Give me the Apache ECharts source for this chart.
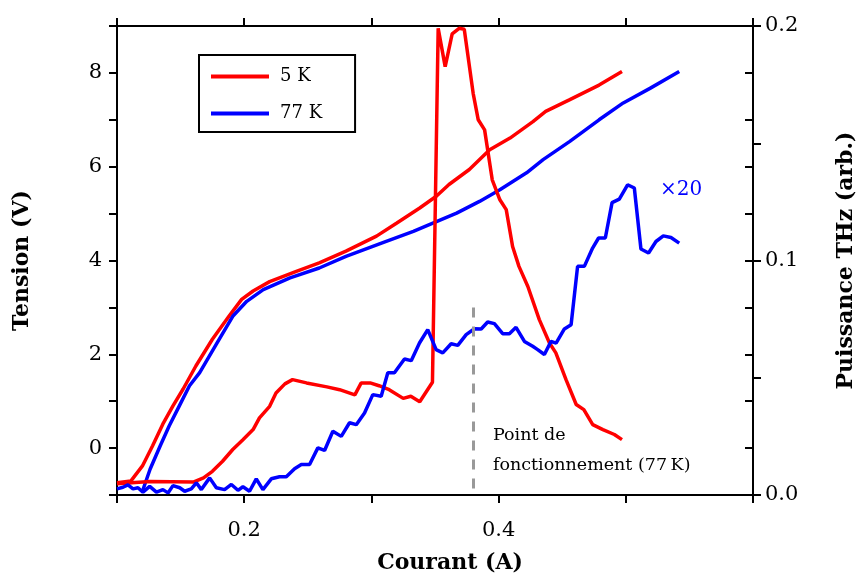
<!DOCTYPE html>
<html>
<head>
<meta charset="utf-8">
<script src="https://cdn.jsdelivr.net/npm/echarts@6/dist/echarts.min.js"></script>
<style>html,body{margin:0;padding:0;background:#fff;}#c{width:858px;height:574px;}</style>
</head>
<body>
<div id="c"></div>
<script>
// ---- Data ----
const ivCurrent5K = [0.100,0.111,0.120,0.128,0.136,0.144,0.152,0.162,0.175,0.188,0.198,0.207,0.220,0.241,0.259,0.280,0.304,0.320,0.338,0.351,0.361,0.377,0.393,0.409,0.427,0.437,0.456,0.479,0.497];
const ivVoltage5K = [-0.74,-0.70,-0.38,0.05,0.51,0.90,1.26,1.75,2.32,2.81,3.17,3.35,3.55,3.77,3.95,4.20,4.52,4.80,5.12,5.37,5.62,5.94,6.36,6.61,6.96,7.18,7.43,7.74,8.03];

const ivCurrent77K = [0.120,0.126,0.134,0.141,0.149,0.157,0.165,0.178,0.191,0.202,0.215,0.236,0.259,0.280,0.309,0.333,0.346,0.367,0.385,0.401,0.422,0.435,0.456,0.479,0.498,0.519,0.542];
const ivVoltage77K = [-0.92,-0.45,0.05,0.47,0.90,1.33,1.61,2.21,2.81,3.13,3.38,3.63,3.84,4.09,4.38,4.62,4.77,5.01,5.26,5.51,5.87,6.15,6.54,7.00,7.36,7.67,8.03];

const pwCurrent5K = [0.100,0.126,0.160,0.168,0.175,0.183,0.191,0.199,0.207,0.212,0.220,0.225,0.232,0.238,0.249,0.265,0.275,0.287,0.292,0.299,0.306,0.314,0.325,0.331,0.338,0.348,0.3525,0.358,0.3635,0.369,0.373,0.380,0.384,0.389,0.395,0.401,0.406,0.411,0.416,0.423,0.432,0.440,0.445,0.453,0.461,0.467,0.474,0.482,0.491,0.497];
const pwPower5K = [0.0048,0.0058,0.0055,0.0073,0.0101,0.0144,0.0194,0.0236,0.0279,0.0329,0.0378,0.0435,0.0474,0.0492,0.0478,0.0461,0.0449,0.0427,0.0478,0.0478,0.0466,0.0449,0.0412,0.0421,0.0398,0.0481,0.199,0.1827,0.1966,0.199,0.1986,0.1713,0.160,0.1557,0.1344,0.1259,0.1217,0.106,0.0975,0.0889,0.0748,0.0648,0.0606,0.0492,0.0386,0.0364,0.0300,0.0279,0.0258,0.0236];

const pwCurrent77K = [0.1000,0.1047,0.1086,0.1126,0.1165,0.1204,0.1257,0.1310,0.1361,0.1401,0.1440,0.1493,0.1532,0.1584,0.1624,0.1663,0.1728,0.1781,0.1846,0.1899,0.1951,0.1990,0.2042,0.2095,0.2147,0.2213,0.2278,0.2331,0.2396,0.2449,0.2514,0.2579,0.2632,0.2697,0.2763,0.2828,0.2881,0.2946,0.3011,0.3077,0.3129,0.3181,0.3260,0.3313,0.3378,0.3443,0.3509,0.3561,0.3627,0.3679,0.3745,0.3810,0.3863,0.3914,0.3967,0.4032,0.4085,0.4137,0.4203,0.4268,0.4307,0.4360,0.4412,0.4452,0.4517,0.4570,0.4621,0.4674,0.4739,0.4786,0.4839,0.4892,0.4949,0.5014,0.5067,0.5119,0.5179,0.5237,0.5295,0.5355,0.5420];
const pwPower77K = [0.0026,0.0033,0.0043,0.0026,0.0031,0.0012,0.0037,0.0012,0.0023,0.0009,0.0040,0.0031,0.0016,0.0026,0.0052,0.0023,0.0073,0.0031,0.0023,0.0045,0.0020,0.0035,0.0016,0.0069,0.0023,0.0069,0.0078,0.0078,0.0112,0.0130,0.0130,0.0201,0.0190,0.0272,0.0250,0.0308,0.0300,0.0350,0.0428,0.0421,0.0521,0.0521,0.0580,0.0573,0.0648,0.0705,0.0620,0.0606,0.0645,0.0638,0.0684,0.0709,0.0708,0.0738,0.0731,0.0688,0.0688,0.0715,0.0655,0.0634,0.0620,0.0599,0.0655,0.0648,0.0708,0.0726,0.0975,0.0975,0.1053,0.1096,0.1096,0.1247,0.1262,0.1323,0.1309,0.1049,0.1032,0.1081,0.1105,0.1098,0.1074];

const operatingCurrent = 0.38;
const operatingMarkerV = [3, -1];

const xTickLabels = ['0.2', '0.4'];
const yLeftTickLabels = ['0', '2', '4', '6', '8'];
const yRightTickLabels = ['0.0', '0.1', '0.2'];

const seriesNames = ['5 K', '77 K'];

// ---- Chart ----
const zip = (a, b) => a.map((v, i) => [v, b[i]]);
const FONT = 'DejaVu Serif';
const RED = '#ff0000', BLUE = '#0000ff';

const chart = echarts.init(document.getElementById('c'), null, {renderer: 'canvas'});

const axisLineStyle = {onZero: false, lineStyle: {color: '#000', width: 2}};
const tickStyle = {lineStyle: {color: '#000', width: 2}};
const titleStyle = {fontFamily: FONT, fontWeight: 'bold', fontSize: 22, color: '#000'};
const tickFont = {fontFamily: FONT, fontSize: 21, color: '#000'};

chart.setOption({
  animation: false,
  backgroundColor: '#fff',
  grid: {left: 117, right: 105, top: 26, bottom: 79, containLabel: false, outerBoundsMode: 'none'},
  legend: {
    left: 199, top: 55, orient: 'vertical',
    data: [{name: seriesNames[0], icon: 'rect'}, {name: seriesNames[1], icon: 'rect'}],
    itemWidth: 58, itemHeight: 4, itemGap: 16,
    borderColor: '#000', borderWidth: 2, borderRadius: 0,
    padding: [11, 33, 8, 12],
    textStyle: {fontFamily: FONT, fontSize: 18, color: '#000', padding: [0, 0, 0, 6], lineHeight: 21},
    selectedMode: false
  },
  xAxis: [
    {
      type: 'value', position: 'bottom', min: 0.1, max: 0.6, interval: 0.1,
      name: 'Courant (A)', nameLocation: 'middle', nameGap: 57,
      nameTextStyle: Object.assign({}, titleStyle, {padding: [0, 0, 0, 30]}),
      axisLine: axisLineStyle,
      axisTick: {show: true, inside: false, length: 8, ...tickStyle},
      axisLabel: Object.assign({}, tickFont, {
        margin: 25, showMinLabel: true, showMaxLabel: true,
        formatter: v => { const s = (+v).toFixed(1); return xTickLabels.includes(s) ? s : ''; }
      }),
      splitLine: {show: false}
    },
    {
      type: 'value', position: 'top', min: 0.1, max: 0.6, interval: 0.1,
      axisLine: axisLineStyle,
      axisTick: {show: true, inside: false, length: 8, ...tickStyle},
      axisLabel: {show: false}, splitLine: {show: false}
    }
  ],
  yAxis: [
    {
      type: 'value', position: 'left', min: -1, max: 9, interval: 1,
      name: 'Tension (V)', nameLocation: 'middle', nameGap: 84, nameRotate: 90,
      nameTextStyle: titleStyle,
      axisLine: axisLineStyle,
      axisTick: {show: true, inside: false, length: 8, ...tickStyle},
      axisLabel: Object.assign({}, tickFont, {
        margin: 15, showMinLabel: true, showMaxLabel: true,
        formatter: v => { const s = String(Math.round(v)); return yLeftTickLabels.includes(s) ? s : ''; }
      }),
      splitLine: {show: false}
    },
    {
      type: 'value', position: 'right', min: 0, max: 0.2, interval: 0.05,
      name: 'Puissance THz (arb.)', nameLocation: 'middle', nameGap: 82, nameRotate: 90,
      nameTextStyle: titleStyle,
      axisLine: axisLineStyle,
      axisTick: {show: true, inside: false, length: 8, ...tickStyle},
      axisLabel: Object.assign({}, tickFont, {
        margin: 12, showMinLabel: true, showMaxLabel: true,
        formatter: v => { const s = (+v).toFixed(1); return (yRightTickLabels.includes(s) && Math.abs(v*10 - Math.round(v*10)) < 1e-6) ? s : ''; }
      }),
      splitLine: {show: false}
    },
    {
      type: 'value', position: 'right', min: -1, max: 9, interval: 1,
      axisLine: {show: false},
      axisTick: {show: true, inside: true, length: 8, ...tickStyle},
      axisLabel: {show: false}, splitLine: {show: false}
    }
  ],
  series: [
    {
      name: seriesNames[0], type: 'line', xAxisIndex: 0, yAxisIndex: 0,
      data: zip(ivCurrent5K, ivVoltage5K), showSymbol: false, symbol: 'none',
      lineStyle: {color: RED, width: 3.5}, itemStyle: {color: RED}, z: 3
    },
    {
      name: seriesNames[1], type: 'line', xAxisIndex: 0, yAxisIndex: 0,
      data: zip(ivCurrent77K, ivVoltage77K), showSymbol: false, symbol: 'none',
      lineStyle: {color: BLUE, width: 3.5}, itemStyle: {color: BLUE}, z: 3,
      markLine: {
        silent: true, symbol: ['none', 'none'], label: {show: false},
        lineStyle: {color: '#999999', width: 3, type: [10, 9]},
        data: [[{coord: [operatingCurrent, operatingMarkerV[0]]}, {coord: [operatingCurrent, operatingMarkerV[1]]}]]
      }
    },
    {
      name: seriesNames[0], type: 'line', xAxisIndex: 0, yAxisIndex: 1,
      data: zip(pwCurrent5K, pwPower5K), showSymbol: false, symbol: 'none',
      lineStyle: {color: RED, width: 3.5}, itemStyle: {color: RED}, z: 3
    },
    {
      name: seriesNames[1], type: 'line', xAxisIndex: 0, yAxisIndex: 1,
      data: zip(pwCurrent77K, pwPower77K), showSymbol: false, symbol: 'none',
      lineStyle: {color: BLUE, width: 3.5}, itemStyle: {color: BLUE}, z: 3
    }
  ],
  graphic: [
    {type: 'text', left: 493, top: 426, z: 10, style: {text: 'Point de', fontFamily: FONT, fontSize: 17.5, fill: '#000'}},
    {type: 'text', left: 493, top: 456, z: 10, style: {text: 'fonctionnement (77\u2009K)', fontFamily: FONT, fontSize: 17.5, fill: '#000'}},
    {type: 'text', left: 660, top: 180, z: 10, style: {text: '\u00d720', fontFamily: FONT, fontSize: 20, fill: BLUE}}
  ]
});
</script>
</body>
</html>
